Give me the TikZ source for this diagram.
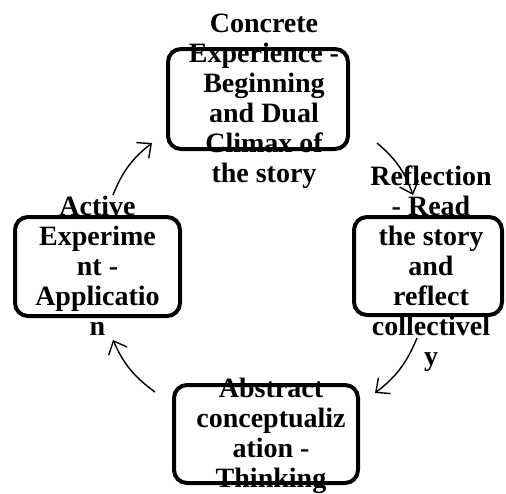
\documentclass[tikz,border=0pt]{standalone}
\usepackage{fontspec}
\setmainfont{Liberation Serif}
\usetikzlibrary{arrows.meta}
\begin{document}
\begin{tikzpicture}[x=1pt,y=1pt,
  stagebox/.style={draw, line width=4pt, rounded corners=13pt, inner sep=0pt},
  stagetext/.style={align=center, inner sep=0pt, font=\bfseries\fontsize{28}{30}\selectfont},
  conn/.style={line width=1.4pt, -{Straight Barb[length=11pt,width=20pt,line width=1.4pt]}}]
\useasboundingbox (0,0) rectangle (506,-493);
% boxes
\node[stagebox, minimum width=180pt, minimum height=100pt] (top) at (258,-99) {};
\node[stagebox, minimum width=148pt, minimum height=98pt] (right) at (428,-266) {};
\node[stagebox, minimum width=165pt, minimum height=99pt] (left) at (97.5,-266.5) {};
\node[stagebox, minimum width=184pt, minimum height=98pt] (bottom) at (266,-434) {};
% texts
\node[stagetext] (toptext) at (264,-101.5) {Concrete\\Experience -\\Beginning\\and Dual\\Climax of\\the story};
\node[stagetext] (righttext) at (431,-268.5) {Reflection\\- Read\\the story\\and\\reflect\\collectivel\\y};
\node[stagetext] (lefttext) at (97.5,-265.5) {Active\\Experime\\nt -\\Applicatio\\n};
\node[stagetext] (bottomtext) at (271,-435.5) {Abstract\\conceptualiz\\ation -\\Thinking};
% connector ends
\coordinate (a1s) at (377,-143);
\coordinate (a1e) at (413,-195);
\coordinate (a2s) at (417,-338);
\coordinate (a2e) at (375,-393);
\coordinate (a3s) at (155,-392);
\coordinate (a3e) at (113,-340);
\coordinate (a4s) at (113,-195);
\coordinate (a4e) at (152,-143);
\draw[conn] (a1s) to[bend left=15] (a1e);
\draw[conn] (a2s) to[bend left=15] (a2e);
\draw[conn] (a3s) to[bend left=15] (a3e);
\draw[conn] (a4s) to[bend left=15] (a4e);
\end{tikzpicture}
\end{document}
